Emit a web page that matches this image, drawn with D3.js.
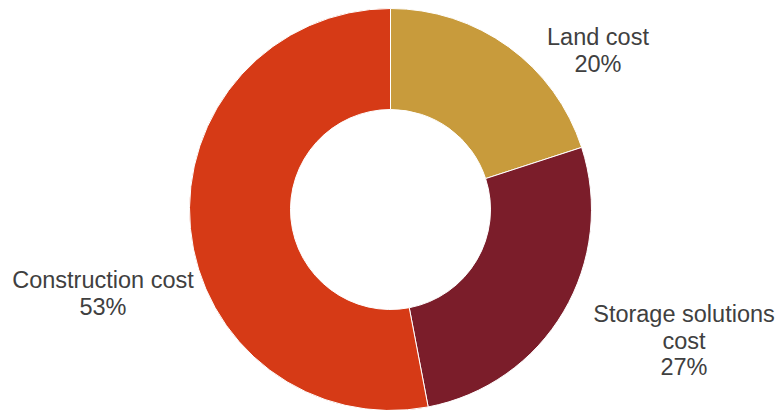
<!DOCTYPE html>
<html>
<head>
<meta charset="utf-8">
<script src="https://cdn.jsdelivr.net/npm/d3@7"></script>
<style>
  body { margin: 0; background: #fff; }
  svg { display: block; }
</style>
</head>
<body>
<svg id="chart"></svg>
<script>
// Data
const categories = ["Land cost", "Storage solutions cost", "Construction cost"];
const values = [20, 27, 53];
const colors = ["#C89B3C", "#7B1D2A", "#D63A16"];
// label lines as shown next to each slice
const labelLines = [["Land cost", "20%"], ["Storage solutions", "cost", "27%"], ["Construction cost", "53%"]];

// Label placement (layout, not data)
const labelPos = [{x: 598, y: 45}, {x: 684, y: 322}, {x: 103, y: 288}];

const width = 780, height = 410;
const cx = 390.5, cy = 209.5, outerR = 201, innerR = 100;

const svg = d3.select("#chart")
    .attr("width", width)
    .attr("height", height);

const g = svg.append("g")
    .attr("transform", `translate(${cx},${cy})`);

const pie = d3.pie().sort(null).value(d => d);
const arc = d3.arc().innerRadius(innerR).outerRadius(outerR);

g.selectAll("path")
    .data(pie(values))
    .enter().append("path")
    .attr("d", arc)
    .attr("fill", (d, i) => colors[i])
    .attr("stroke", "#fff")
    .attr("stroke-width", 1);

// Labels
const labels = svg.selectAll(".label")
    .data(categories)
    .enter().append("text")
    .attr("class", "label")
    .attr("text-anchor", "middle")
    .attr("font-family", "Liberation Sans, Arial, sans-serif")
    .attr("font-size", "23.5px")
    .attr("fill", "#404040")
    .attr("x", (d, i) => labelPos[i].x)
    .attr("y", (d, i) => labelPos[i].y);

labels.each(function(d, i) {
    d3.select(this).selectAll("tspan")
        .data(labelLines[i])
        .enter().append("tspan")
        .attr("x", labelPos[i].x)
        .attr("dy", (t, j) => j === 0 ? 0 : 26.5)
        .text(t => t);
});
</script>
</body>
</html>
